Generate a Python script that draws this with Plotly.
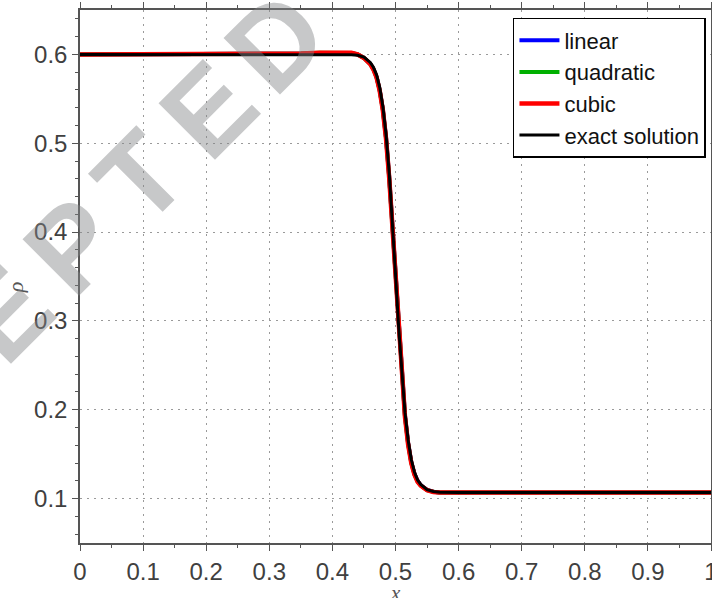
import plotly.graph_objects as go

x_exact = [0.0, 0.40, 0.43, 0.44, 0.45, 0.46, 0.465, 0.47, 0.475, 0.48, 0.485, 0.49, 0.495,
           0.50, 0.505, 0.51, 0.515, 0.52, 0.525, 0.53, 0.535, 0.54, 0.55, 0.56, 0.57, 0.60, 1.0]
rho_exact = [0.600, 0.600, 0.5995, 0.599, 0.597, 0.591, 0.5855, 0.577, 0.563, 0.541, 0.510, 0.467, 0.414,
             0.353, 0.293, 0.240, 0.197, 0.166, 0.144, 0.130, 0.121, 0.116, 0.110, 0.108, 0.1072, 0.1068, 0.1068]

x_num = [0.0, 0.30, 0.35, 0.38, 0.41, 0.43, 0.44, 0.45, 0.46, 0.465, 0.47, 0.475, 0.48, 0.485, 0.49,
         0.495, 0.50, 0.505, 0.51, 0.515, 0.52, 0.525, 0.53, 0.535, 0.54, 0.55, 0.56, 0.57, 0.60, 1.0]
rho_linear = [0.600, 0.600, 0.6008, 0.6016, 0.6020, 0.6016, 0.6000, 0.5962, 0.5895, 0.5835, 0.5745, 0.5595,
              0.5380, 0.5065, 0.4625, 0.4085, 0.3485, 0.2885, 0.2355, 0.1935, 0.1625, 0.1410, 0.1280,
              0.1200, 0.1150, 0.1098, 0.1077, 0.1069, 0.1068, 0.1068]
rho_quadratic = [0.600, 0.600, 0.6009, 0.6018, 0.6022, 0.6017, 0.6000, 0.5960, 0.5892, 0.5832, 0.5742, 0.5592,
                 0.5375, 0.5058, 0.4617, 0.4075, 0.3475, 0.2875, 0.2345, 0.1925, 0.1615, 0.1403, 0.1273,
                 0.1193, 0.1146, 0.1096, 0.1076, 0.1068, 0.1068, 0.1068]
rho_cubic = [0.600, 0.600, 0.6010, 0.6020, 0.6024, 0.6018, 0.6000, 0.5960, 0.5890, 0.5830, 0.5740, 0.5590,
             0.5370, 0.5050, 0.4610, 0.4070, 0.3470, 0.2870, 0.2340, 0.1920, 0.1610, 0.1400, 0.1270,
             0.1190, 0.1145, 0.1095, 0.1075, 0.1068, 0.1068, 0.1068]

watermark = "ACCEPTED"

fig = go.Figure()
fig.add_trace(go.Scatter(x=x_num, y=rho_linear, mode="lines", name="linear",
                         line=dict(color="#0000ff", width=4)))
fig.add_trace(go.Scatter(x=x_num, y=rho_quadratic, mode="lines", name="quadratic",
                         line=dict(color="#00b000", width=4)))
fig.add_trace(go.Scatter(x=x_num, y=rho_cubic, mode="lines", name="cubic",
                         line=dict(color="#ff0000", width=4.5)))
fig.add_trace(go.Scatter(x=x_exact, y=rho_exact, mode="lines", name="exact solution",
                         line=dict(color="#000000", width=3)))

axis_common = dict(
    showline=True, linecolor="#555555", linewidth=1.5, mirror="ticks",
    ticks="outside", ticklen=6, tickwidth=1.2, tickcolor="#555555",
    showgrid=True, gridcolor="#9a9a9a", gridwidth=1, griddash="1.5px,5.5px",
    zeroline=False, automargin=False, ticklabeloverflow="allow",
    tickfont=dict(family="Liberation Sans, Arial, sans-serif", size=24, color="#404040"),
)

fig.update_xaxes(range=[0, 1], dtick=0.1, tick0=0, ticklabelstandoff=0,
                 minor=dict(dtick=0.05, ticks="outside", ticklen=3.5, tickcolor="#555555", showgrid=False),
                 **axis_common)
fig.update_yaxes(range=[0.05, 0.65], dtick=0.1, tick0=0, ticklabelstandoff=0,
                 minor=dict(dtick=0.02, ticks="outside", ticklen=3.5, tickcolor="#555555", showgrid=False),
                 **axis_common)

# axis labels (LaTeX style italics)
fig.add_annotation(text="<i>x</i>", xref="paper", yref="paper", x=0.5, y=-0.094,
                   xanchor="center", yanchor="middle",
                   showarrow=False, font=dict(family="Liberation Serif, serif", size=21, color="#555555"))
fig.add_annotation(text="<i>ρ</i>", xref="paper", yref="paper", x=-0.103, y=0.48, textangle=-90,
                   xanchor="center", yanchor="middle",
                   showarrow=False, font=dict(family="Liberation Serif, serif", size=22, color="#555555"))

# diagonal watermark, one letter at a time
for i, ch in enumerate(watermark):
    px = -200 + 68 * i
    py = 518 - 68 * i
    fig.add_annotation(text="<b>" + ch + "</b>", xref="paper", yref="paper",
                       x=(px - 80) / 631, y=(543 - py) / 533,
                       xanchor="center", yanchor="middle",
                       showarrow=False, textangle=-45,
                       font=dict(family="Liberation Sans, Arial, sans-serif", size=116,
                                 color="rgba(130,132,135,0.45)"))

fig.update_layout(
    width=712, height=598,
    margin=dict(l=80, r=1, t=10, b=55),
    plot_bgcolor="white", paper_bgcolor="white",
    showlegend=True,
    legend=dict(x=0.992, y=0.985, xanchor="right", yanchor="top",
                bgcolor="white", bordercolor="black", borderwidth=1.5,
                font=dict(family="Liberation Sans, Arial, sans-serif", size=22, color="#111111"),
                tracegroupgap=0, itemwidth=40),
)

fig.write_html("out.html", config={"displayModeBar": False},
               post_script="document.body.style.margin='0';")
